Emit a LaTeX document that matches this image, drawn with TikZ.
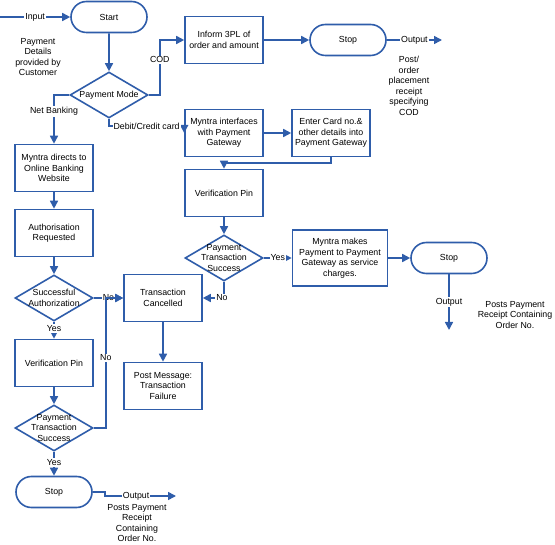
\documentclass[tikz,border=0pt]{standalone}
\usepackage{fontspec}
\setmainfont{Liberation Sans}
\usepackage{tikz}
\usetikzlibrary{arrows.meta,shapes.geometric,shapes.misc}
\definecolor{fc}{RGB}{47,93,170}
\begin{document}
\begin{tikzpicture}[x=1pt, y=1pt, inner sep=1pt, font=\fontsize{8.8}{10.5}\selectfont]
    \useasboundingbox (0,0) rectangle (555,-545);
    \tikzstyle{bx}=[rectangle, draw=fc, line width=1.6pt, minimum width=78pt, minimum height=47pt, align=center, text=black] \tikzstyle{trm}=[rounded rectangle, draw=fc, line width=1.6pt, minimum width=78pt, minimum height=31pt]
    \tikzstyle{dec}=[diamond, draw=fc, line width=1.6pt, minimum width=78pt, minimum height=46pt, inner sep=0pt] \tikzstyle{nt}=[align=center, text=black]
    \tikzstyle{ar}=[->, draw=fc, line width=1.6pt, >={Triangle[length=8pt, width=8pt]}] \tikzstyle{lb}=[fill=white, inner sep=1pt, text=black]

    \node[trm] (S0) at (109,-17) {Start}; \node[dec] (PM) [below of=S0, node distance=78pt] {}; \node[nt] (PMt) at (PM) {Payment Mode};
    \node[bx] (I3) at (224,-40) {Inform 3PL of\\order and amount}; \node[trm] (S1) [right of=I3, node distance=124pt] {Stop};
    \node[bx] (NB) at (54,-168) {Myntra directs to\\Online Banking\\Website}; \node[bx] (AR) [below of=NB, node distance=65pt] {Authorisation\\Requested};
    \node[dec] (SA) [below of=AR, node distance=65pt] {}; \node[nt] (SAt) at (SA) {Successful\\Authorization};
    \node[bx] (VP1) [below of=SA, node distance=65pt] {Verification Pin}; \node[dec] (PT1) [below of=VP1, node distance=65pt] {}; \node[nt] (PT1t) at (PT1) {Payment\\Transaction\\Success};
    \node[trm] (S2) [below of=PT1, node distance=64pt] {Stop};
    \node[bx] (TC) at (163,-298) {Transaction\\Cancelled}; \node[bx] (PF) [below of=TC, node distance=88pt] {Post Message:\\Transaction\\Failure};
    \node[bx] (MI) at (224,-133) {Myntra interfaces\\with Payment\\Gateway}; \node[bx] (EC) [right of=MI, node distance=107pt] {Enter Card no.\&\\other details into\\Payment Gateway};
    \node[bx] (VP2) [below of=MI, node distance=60pt] {Verification Pin}; \node[dec] (PT2) [below of=VP2, node distance=65pt] {}; \node[nt] (PT2t) at (PT2) {Payment\\Transaction\\Success};
    \node[bx, minimum width=95pt, minimum height=56pt] (MP) at (340,-258) {Myntra makes\\Payment to Payment\\Gateway as service\\charges.}; \node[trm] (S3) at (449,-258) {Stop};

    \node[nt] (PD) at (38,-57) {Payment\\Details\\provided by\\Customer}; \node[nt] (PC) at (409,-86) {Post/\\order\\placement\\receipt\\specifying\\COD};
    \node[nt] (PR2) at (137,-523) {Posts Payment\\Receipt\\Containing\\Order No.}; \node[nt] (PR3) at (515,-315) {Posts Payment\\Receipt Containing\\Order No.};
    \coordinate (IN) at (0,-17); \coordinate (O1) at (442,-40); \coordinate (O2) at (176,-496); \coordinate (O3) at (449,-330);

    \draw[ar] (IN) to node[lb] {Input} (S0);
    \draw[ar] (S0) to (PM);
    \draw[ar] (PM.east) -- ++(11,0) |- node[lb, pos=0.32] {COD} (I3);
    \draw[ar] (I3) to (S1);
    \draw[ar] (S1) to node[lb] {Output} (O1);
    \draw[ar] (PM.west) -| node[lb, pos=0.67] {Net Banking} (NB);
    \draw[ar] (NB) to (AR); \draw[ar] (AR) to (SA);
    \draw[ar] (SA) to node[lb, pos=0.4] {Yes} (VP1);
    \draw[ar] (VP1) to (PT1);
    \draw[ar] (PT1) to node[lb, pos=0.45] {Yes} (S2);
    \draw[ar] (SA) to node[lb] {No} (TC);
    \draw[ar] (PT1.east) -- ++(12,0) |- node[lb, pos=0.27] {No} (TC.west);
    \draw[ar] (TC) to (PF);
    \draw[ar] (PM.south) |- node[lb, pos=0.75] {Debit/Credit card} ([yshift=7pt] MI.west) -- (MI.west);
    \draw[ar] (MI) to (EC);
    \draw[ar] (EC.south) -- ++(0,-6) -| (VP2.north);
    \draw[ar] (VP2) to (PT2);
    \draw[ar] (PT2) to node[lb] {Yes} (MP);
    \draw[ar] (PT2.south) |- node[lb, pos=0.55] {No} (TC.east);
    \draw[ar] (MP) to (S3);
    \draw[ar] (S3) to node[lb] {Output} (O3);
    \draw[ar] (S2.east) -- ++(12,0) |- node[lb, pos=0.72] {Output} (O2);
  \end{tikzpicture}
\end{document}
